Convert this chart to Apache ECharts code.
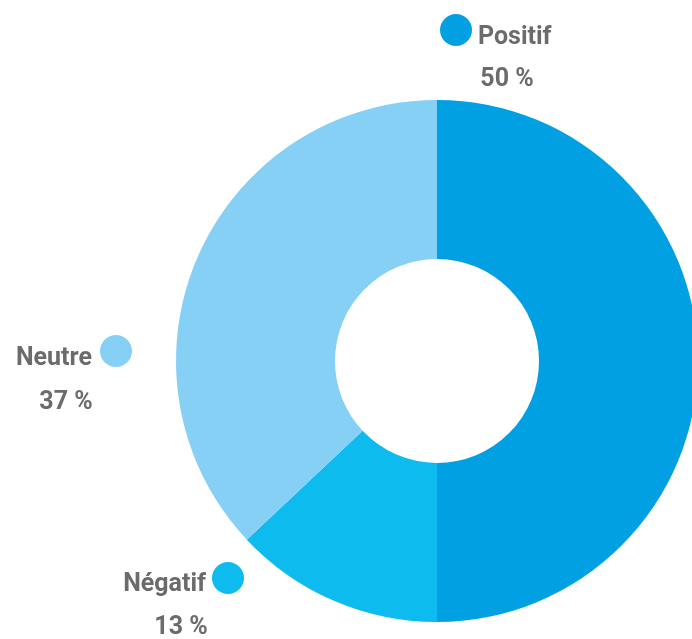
<!DOCTYPE html>
<html>
<head>
<meta charset="utf-8">
<script src="https://cdn.jsdelivr.net/npm/echarts@6/dist/echarts.min.js"></script>
<style>
  html, body { margin: 0; padding: 0; background: #fff; }
  #chart { width: 692px; height: 639px; }
</style>
</head>
<body>
<div id="chart"></div>
<script>
// données
const categories = ['Positif', 'Négatif', 'Neutre'];
const values = [50, 13, 37];
const colors = ['#00a0e3', '#0dbbee', '#87d0f5'];

// position des étiquettes (dot à gauche ou à droite du nom)
const labelPos = [
  { x: 478, y: 38, align: 'left', dotX: 456, dotY: 30 },
  { x: 206, y: 585, align: 'right', dotX: 228, dotY: 578 },
  { x: 92, y: 359, align: 'right', dotX: 116, dotY: 351 }
];
const pctPos = [
  { x: 507, y: 80 },
  { x: 181, y: 628 },
  { x: 66, y: 403 }
];

let myChart = echarts.init(document.getElementById('chart'));
let graphics = [];
categories.forEach((name, i) => {
  let p = labelPos[i];
  graphics.push({
    type: 'circle',
    shape: { cx: p.dotX, cy: p.dotY, r: 16 },
    style: { fill: colors[i] }
  });
  graphics.push({
    type: 'text',
    x: p.x, y: p.y,
    style: {
      text: name,
      fill: '#6b6b6b',
      font: 'bold 25px Roboto',
      align: p.align,
      verticalAlign: 'middle'
    }
  });
  graphics.push({
    type: 'text',
    x: pctPos[i].x, y: pctPos[i].y,
    style: {
      text: values[i] + ' %',
      fill: '#6b6b6b',
      font: 'bold 25px Roboto',
      align: 'center',
      verticalAlign: 'middle'
    }
  });
});

let option = {
  animation: false,
  graphic: graphics,
  series: [
    {
      type: 'pie',
      center: [437, 361],
      radius: [102, 261],
      startAngle: 90,
      clockwise: true,
      label: { show: false },
      labelLine: { show: false },
      itemStyle: { borderWidth: 0 },
      emphasis: { disabled: true },
      data: categories.map((n, i) => ({ name: n, value: values[i], itemStyle: { color: colors[i] } }))
    }
  ]
};
myChart.setOption(option);
</script>
</body>
</html>
